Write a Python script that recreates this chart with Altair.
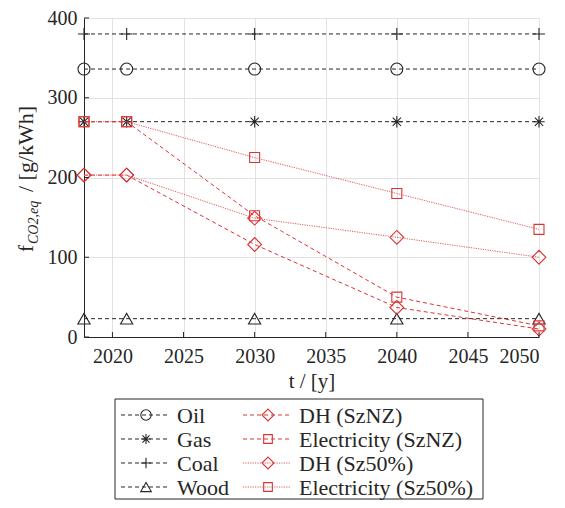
import altair as alt
import pandas as pd

# ---------------- data ----------------
years = [2018, 2021, 2030, 2040, 2050]
oil = [336, 336, 336, 336, 336]
gas = [270, 270, 270, 270, 270]
coal = [380, 380, 380, 380, 380]
wood = [23, 23, 23, 23, 23]
dh_sznz = [203, 203, 116, 37, 10]
el_sznz = [270, 270, 152, 50, 14]
dh_sz50 = [203, 203, 149, 125, 100]
el_sz50 = [270, 270, 225, 180, 135]

names = ["Oil", "Gas", "Coal", "Wood",
         "DH (SzNZ)", "Electricity (SzNZ)", "DH (Sz50%)", "Electricity (Sz50%)"]
series = [oil, gas, coal, wood, dh_sznz, el_sznz, dh_sz50, el_sz50]
legend_rows = [0, 1, 2, 3, 0, 1, 2, 3]
legend_cols = [0, 0, 0, 0, 1, 1, 1, 1]

x_ticks = [2020, 2025, 2030, 2035, 2040, 2045, 2050]
y_ticks = [0, 100, 200, 300, 400]

# ---------------- styles ----------------
FONT = "'Liberation Serif', 'Times New Roman', Tinos, 'DejaVu Serif', serif"
BLACK = "#262626"
RED = "#db3434"
RED_LIGHT = "#e05a5a"
ASTERISK = "M-1,0L1,0M0,-1L0,1M-0.72,-0.72L0.72,0.72M-0.72,0.72L0.72,-0.72"
PLUS = "M-1,0L1,0M0,-1L0,1"

styles = [
    dict(color=BLACK, line=BLACK, dash=[4, 3], shape="circle", size=144),
    dict(color=BLACK, line=BLACK, dash=[4, 3], shape=ASTERISK, size=130),
    dict(color=BLACK, line=BLACK, dash=[4, 3], shape=PLUS, size=144),
    dict(color=BLACK, line=BLACK, dash=[4, 3], shape="triangle-up", size=150),
    dict(color=RED, line=RED, dash=[4, 3], shape="diamond", size=190),
    dict(color=RED, line=RED, dash=[4, 3], shape="square", size=100),
    dict(color=RED, line=RED_LIGHT, dash=[1.2, 1.2], shape="diamond", size=190),
    dict(color=RED, line=RED_LIGHT, dash=[1.2, 1.2], shape="square", size=100),
]

H = 319
xscale = alt.Scale(domain=[2018, 2050], nice=False, zero=False)
yscale = alt.Scale(domain=[0, 400], nice=False, zero=False)
xaxis = alt.Axis(values=x_ticks, format="d", title="t / [y]", grid=True,
                 ticks=False, labelPadding=9, titlePadding=4)
yaxis = alt.Axis(values=y_ticks, title=None, grid=True, ticks=False, labelPadding=7)

X = alt.X("year:Q", scale=xscale, axis=xaxis)
Y = alt.Y("value:Q", scale=yscale, axis=yaxis)

one = pd.DataFrame({"k": [0]})

# ---------------- main plot ----------------
main_layers = []
for vals, st in zip(series, styles):
    df = pd.DataFrame({"year": years, "value": vals})
    base = alt.Chart(df)
    main_layers.append(
        base.mark_line(color=st["line"], strokeDash=st["dash"], strokeWidth=1).encode(x=X, y=Y)
    )
    main_layers.append(
        base.mark_point(shape=st["shape"], size=st["size"], filled=False,
                        color=st["color"], strokeWidth=1.1, opacity=1).encode(x=X, y=Y)
    )

# inward ticks
xt = pd.DataFrame({"year": x_ticks})
yt = pd.DataFrame({"value": y_ticks})
main_layers.append(
    alt.Chart(xt).mark_rule(color=BLACK, strokeWidth=1).encode(
        x=X, y=alt.value(H), y2=alt.value(H - 5))
)
main_layers.append(
    alt.Chart(yt).mark_rule(color=BLACK, strokeWidth=1).encode(
        y=Y, x=alt.value(0), x2=alt.value(5))
)

# y axis title built from text pieces (with subscript)
main_layers.append(
    alt.Chart(one).mark_text(text="f", angle=270, align="left", baseline="alphabetic",
                             font=FONT, fontSize=21, color=BLACK).encode(
        x=alt.value(-51), y=alt.value(234))
)
main_layers.append(
    alt.Chart(one).mark_text(text="CO2,eq", angle=270, align="left", baseline="alphabetic",
                             font=FONT, fontSize=14, fontStyle="italic", color=BLACK).encode(
        x=alt.value(-46), y=alt.value(226))
)
main_layers.append(
    alt.Chart(one).mark_text(text="/ [g/kWh]", angle=270, align="left", baseline="alphabetic",
                             font=FONT, fontSize=22, color=BLACK).encode(
        x=alt.value(-51), y=alt.value(174))
)

main = alt.layer(*main_layers)

# ---------------- legend ----------------
COLW = 122.0
LX = alt.Scale(domain=[0, 1], range=[37, 159], nice=False, zero=False)
LY = alt.Scale(domain=[0, 3], range=[397, 469], nice=False, zero=False)

legend_layers = [
    alt.Chart(one).mark_rect(fill="white", stroke=BLACK, strokeWidth=1).encode(
        x=alt.value(31), x2=alt.value(399), y=alt.value(381), y2=alt.value(481))
]
for name, r, c, st in zip(names, legend_rows, legend_cols, styles):
    ldf = pd.DataFrame({"name": [name], "row": [r], "col": [c]})
    lb = alt.Chart(ldf).transform_calculate(
        x0="datum.col", x1=f"datum.col + {48 / COLW}",
        xm=f"datum.col + {25 / COLW}", xt=f"datum.col + {56 / COLW}")
    ly = alt.Y("row:Q", scale=LY, axis=None)
    legend_layers.append(
        lb.mark_rule(color=st["line"], strokeDash=st["dash"], strokeWidth=1).encode(
            x=alt.X("x0:Q", scale=LX, axis=None), x2="x1:Q", y=ly)
    )
    legend_layers.append(
        lb.mark_point(shape=st["shape"], size=st["size"] * 0.75, filled=False,
                      color=st["color"], strokeWidth=1.1, opacity=1).encode(
            x=alt.X("xm:Q", scale=LX, axis=None), y=ly)
    )
    legend_layers.append(
        lb.mark_text(align="left", baseline="middle", font=FONT, fontSize=22,
                     color=BLACK, dy=1).encode(
            x=alt.X("xt:Q", scale=LX, axis=None), y=ly, text="name:N")
    )

legend = alt.layer(*legend_layers)

chart = alt.layer(main, legend).resolve_scale(
    x="independent", y="independent"
).properties(
    width=455, height=H,
    autosize=alt.AutoSizeParams(type="none"),
    padding={"left": 76, "top": 10, "right": 18, "bottom": 163},
).configure(font=FONT).configure_view(stroke=None).configure_axis(
    domainColor=BLACK, domainWidth=1, gridColor="#e2e2e2", gridWidth=1,
    labelFont=FONT, labelFontSize=20, labelColor=BLACK,
    titleFont=FONT, titleFontSize=21, titleFontWeight="normal", titleColor=BLACK,
)

chart.save("out.html", embed_options={"renderer": "svg", "actions": False})
